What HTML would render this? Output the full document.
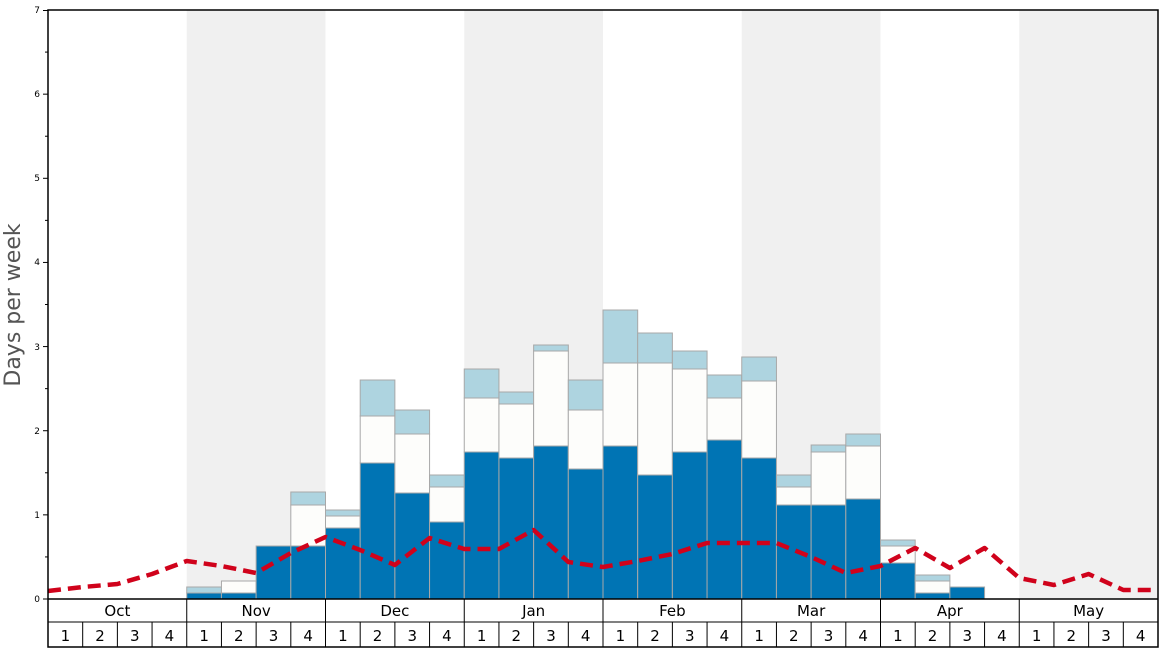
<!DOCTYPE html>
<html><head><meta charset="utf-8"><style>
body{margin:0;background:#fff;}
svg{display:block;font-family:"DejaVu Sans","Liberation Sans",sans-serif;}
</style></head><body>
<svg width="1168" height="648" viewBox="0 0 1168 648" xmlns="http://www.w3.org/2000/svg">
<g fill="#f0f0f0">
<rect x="186.75" y="10" width="138.75" height="589"/>
<rect x="464.25" y="10" width="138.75" height="589"/>
<rect x="741.75" y="10" width="138.75" height="589"/>
<rect x="1019.25" y="10" width="138.75" height="589"/>
</g>
<g stroke="#a8a8a8" stroke-width="1">
<rect x="186.75" y="587" width="34.69" height="6" fill="#aed4e0"/><rect x="186.75" y="593" width="34.69" height="6" fill="#0074b4"/>
<rect x="221.44" y="581" width="34.69" height="12" fill="#fdfdfb"/><rect x="221.44" y="593" width="34.69" height="6" fill="#0074b4"/>
<rect x="256.13" y="546" width="34.69" height="53" fill="#0074b4"/>
<rect x="290.81" y="492" width="34.69" height="13" fill="#aed4e0"/><rect x="290.81" y="505" width="34.69" height="41" fill="#fdfdfb"/><rect x="290.81" y="546" width="34.69" height="53" fill="#0074b4"/>
<rect x="325.5" y="510" width="34.69" height="6" fill="#aed4e0"/><rect x="325.5" y="516" width="34.69" height="12" fill="#fdfdfb"/><rect x="325.5" y="528" width="34.69" height="71" fill="#0074b4"/>
<rect x="360.19" y="380" width="34.69" height="36" fill="#aed4e0"/><rect x="360.19" y="416" width="34.69" height="47" fill="#fdfdfb"/><rect x="360.19" y="463" width="34.69" height="136" fill="#0074b4"/>
<rect x="394.88" y="410" width="34.69" height="24" fill="#aed4e0"/><rect x="394.88" y="434" width="34.69" height="59" fill="#fdfdfb"/><rect x="394.88" y="493" width="34.69" height="106" fill="#0074b4"/>
<rect x="429.56" y="475" width="34.69" height="12" fill="#aed4e0"/><rect x="429.56" y="487" width="34.69" height="35" fill="#fdfdfb"/><rect x="429.56" y="522" width="34.69" height="77" fill="#0074b4"/>
<rect x="464.25" y="369" width="34.69" height="29" fill="#aed4e0"/><rect x="464.25" y="398" width="34.69" height="54" fill="#fdfdfb"/><rect x="464.25" y="452" width="34.69" height="147" fill="#0074b4"/>
<rect x="498.94" y="392" width="34.69" height="12" fill="#aed4e0"/><rect x="498.94" y="404" width="34.69" height="54" fill="#fdfdfb"/><rect x="498.94" y="458" width="34.69" height="141" fill="#0074b4"/>
<rect x="533.63" y="345" width="34.69" height="6" fill="#aed4e0"/><rect x="533.63" y="351" width="34.69" height="95" fill="#fdfdfb"/><rect x="533.63" y="446" width="34.69" height="153" fill="#0074b4"/>
<rect x="568.31" y="380" width="34.69" height="30" fill="#aed4e0"/><rect x="568.31" y="410" width="34.69" height="59" fill="#fdfdfb"/><rect x="568.31" y="469" width="34.69" height="130" fill="#0074b4"/>
<rect x="603" y="310" width="34.69" height="53" fill="#aed4e0"/><rect x="603" y="363" width="34.69" height="83" fill="#fdfdfb"/><rect x="603" y="446" width="34.69" height="153" fill="#0074b4"/>
<rect x="637.69" y="333" width="34.69" height="30" fill="#aed4e0"/><rect x="637.69" y="363" width="34.69" height="112" fill="#fdfdfb"/><rect x="637.69" y="475" width="34.69" height="124" fill="#0074b4"/>
<rect x="672.38" y="351" width="34.69" height="18" fill="#aed4e0"/><rect x="672.38" y="369" width="34.69" height="83" fill="#fdfdfb"/><rect x="672.38" y="452" width="34.69" height="147" fill="#0074b4"/>
<rect x="707.06" y="375" width="34.69" height="23" fill="#aed4e0"/><rect x="707.06" y="398" width="34.69" height="42" fill="#fdfdfb"/><rect x="707.06" y="440" width="34.69" height="159" fill="#0074b4"/>
<rect x="741.75" y="357" width="34.69" height="24" fill="#aed4e0"/><rect x="741.75" y="381" width="34.69" height="77" fill="#fdfdfb"/><rect x="741.75" y="458" width="34.69" height="141" fill="#0074b4"/>
<rect x="776.44" y="475" width="34.69" height="12" fill="#aed4e0"/><rect x="776.44" y="487" width="34.69" height="18" fill="#fdfdfb"/><rect x="776.44" y="505" width="34.69" height="94" fill="#0074b4"/>
<rect x="811.13" y="445" width="34.69" height="7" fill="#aed4e0"/><rect x="811.13" y="452" width="34.69" height="53" fill="#fdfdfb"/><rect x="811.13" y="505" width="34.69" height="94" fill="#0074b4"/>
<rect x="845.81" y="434" width="34.69" height="12" fill="#aed4e0"/><rect x="845.81" y="446" width="34.69" height="53" fill="#fdfdfb"/><rect x="845.81" y="499" width="34.69" height="100" fill="#0074b4"/>
<rect x="880.5" y="540" width="34.69" height="6" fill="#aed4e0"/><rect x="880.5" y="546" width="34.69" height="17" fill="#fdfdfb"/><rect x="880.5" y="563" width="34.69" height="36" fill="#0074b4"/>
<rect x="915.19" y="575" width="34.69" height="6" fill="#aed4e0"/><rect x="915.19" y="581" width="34.69" height="12" fill="#fdfdfb"/><rect x="915.19" y="593" width="34.69" height="6" fill="#0074b4"/>
<rect x="949.88" y="587" width="34.69" height="12" fill="#0074b4"/>
</g>
<polyline fill="none" stroke="#d0021b" stroke-width="4.5" stroke-dasharray="13,7" stroke-linejoin="round" points="48,591 82.69,587 117.38,584 152.06,574 186.75,561 221.44,566 256.13,573 290.81,553 325.5,537 360.19,550 394.88,565 429.56,538 464.25,549 498.94,549 533.63,530 568.31,562 603,567 637.69,561 672.38,554 707.06,543 741.75,543 776.44,543 811.13,557 845.81,573 880.5,566 915.19,548 949.88,568 984.56,548 1019.25,578 1053.94,585 1088.63,574 1123.31,590 1158,590"/>
<rect x="48" y="10" width="1110" height="637" fill="none" stroke="#000" stroke-width="1.5"/>
<line x1="48" y1="599" x2="1158" y2="599" stroke="#000" stroke-width="1.5"/>
<line x1="48" y1="622" x2="1158" y2="622" stroke="#000" stroke-width="1"/>
<g stroke="#000" stroke-width="1">
<line x1="43" x2="48" y1="599" y2="599"/><line x1="43" x2="48" y1="514.86" y2="514.86"/><line x1="43" x2="48" y1="430.72" y2="430.72"/><line x1="43" x2="48" y1="346.58" y2="346.58"/><line x1="43" x2="48" y1="262.44" y2="262.44"/><line x1="43" x2="48" y1="178.3" y2="178.3"/><line x1="43" x2="48" y1="94.16" y2="94.16"/><line x1="43" x2="48" y1="10.5" y2="10.5"/>
<line x1="45" x2="48" y1="556.93" y2="556.93"/><line x1="45" x2="48" y1="472.79" y2="472.79"/><line x1="45" x2="48" y1="388.65" y2="388.65"/><line x1="45" x2="48" y1="304.51" y2="304.51"/><line x1="45" x2="48" y1="220.37" y2="220.37"/><line x1="45" x2="48" y1="136.23" y2="136.23"/><line x1="45" x2="48" y1="52.09" y2="52.09"/>
</g>
<g font-size="9" text-anchor="end">
<text x="40" y="602">0</text><text x="40" y="518">1</text><text x="40" y="434">2</text><text x="40" y="350">3</text><text x="40" y="265">4</text><text x="40" y="181">5</text><text x="40" y="97">6</text><text x="40" y="13">7</text>
</g>
<g stroke="#000" stroke-width="1">
<line x1="186.75" x2="186.75" y1="599" y2="647"/><line x1="325.5" x2="325.5" y1="599" y2="647"/><line x1="464.25" x2="464.25" y1="599" y2="647"/><line x1="603" x2="603" y1="599" y2="647"/><line x1="741.75" x2="741.75" y1="599" y2="647"/><line x1="880.5" x2="880.5" y1="599" y2="647"/><line x1="1019.25" x2="1019.25" y1="599" y2="647"/>
<line x1="82.69" x2="82.69" y1="622" y2="647"/><line x1="117.38" x2="117.38" y1="622" y2="647"/><line x1="152.06" x2="152.06" y1="622" y2="647"/>
<line x1="221.44" x2="221.44" y1="622" y2="647"/><line x1="256.13" x2="256.13" y1="622" y2="647"/><line x1="290.81" x2="290.81" y1="622" y2="647"/>
<line x1="360.19" x2="360.19" y1="622" y2="647"/><line x1="394.88" x2="394.88" y1="622" y2="647"/><line x1="429.56" x2="429.56" y1="622" y2="647"/>
<line x1="498.94" x2="498.94" y1="622" y2="647"/><line x1="533.63" x2="533.63" y1="622" y2="647"/><line x1="568.31" x2="568.31" y1="622" y2="647"/>
<line x1="637.69" x2="637.69" y1="622" y2="647"/><line x1="672.38" x2="672.38" y1="622" y2="647"/><line x1="707.06" x2="707.06" y1="622" y2="647"/>
<line x1="776.44" x2="776.44" y1="622" y2="647"/><line x1="811.13" x2="811.13" y1="622" y2="647"/><line x1="845.81" x2="845.81" y1="622" y2="647"/>
<line x1="915.19" x2="915.19" y1="622" y2="647"/><line x1="949.88" x2="949.88" y1="622" y2="647"/><line x1="984.56" x2="984.56" y1="622" y2="647"/>
<line x1="1053.94" x2="1053.94" y1="622" y2="647"/><line x1="1088.63" x2="1088.63" y1="622" y2="647"/><line x1="1123.31" x2="1123.31" y1="622" y2="647"/>
</g>
<g font-size="15" text-anchor="middle">
<text x="117.38" y="616">Oct</text><text x="256.13" y="616">Nov</text><text x="394.88" y="616">Dec</text><text x="533.63" y="616">Jan</text><text x="672.38" y="616">Feb</text><text x="811.13" y="616">Mar</text><text x="949.88" y="616">Apr</text><text x="1088.63" y="616">May</text>
<text x="65.34" y="641">1</text><text x="100.03" y="641">2</text><text x="134.72" y="641">3</text><text x="169.41" y="641">4</text>
<text x="204.09" y="641">1</text><text x="238.78" y="641">2</text><text x="273.47" y="641">3</text><text x="308.16" y="641">4</text>
<text x="342.84" y="641">1</text><text x="377.53" y="641">2</text><text x="412.22" y="641">3</text><text x="446.91" y="641">4</text>
<text x="481.59" y="641">1</text><text x="516.28" y="641">2</text><text x="550.97" y="641">3</text><text x="585.66" y="641">4</text>
<text x="620.34" y="641">1</text><text x="655.03" y="641">2</text><text x="689.72" y="641">3</text><text x="724.41" y="641">4</text>
<text x="759.09" y="641">1</text><text x="793.78" y="641">2</text><text x="828.47" y="641">3</text><text x="863.16" y="641">4</text>
<text x="897.84" y="641">1</text><text x="932.53" y="641">2</text><text x="967.22" y="641">3</text><text x="1001.91" y="641">4</text>
<text x="1036.59" y="641">1</text><text x="1071.28" y="641">2</text><text x="1105.97" y="641">3</text><text x="1140.66" y="641">4</text>
</g>
<text transform="translate(20,305) rotate(-90)" font-size="22" fill="#555" text-anchor="middle">Days per week</text>
</svg>
</body></html>
